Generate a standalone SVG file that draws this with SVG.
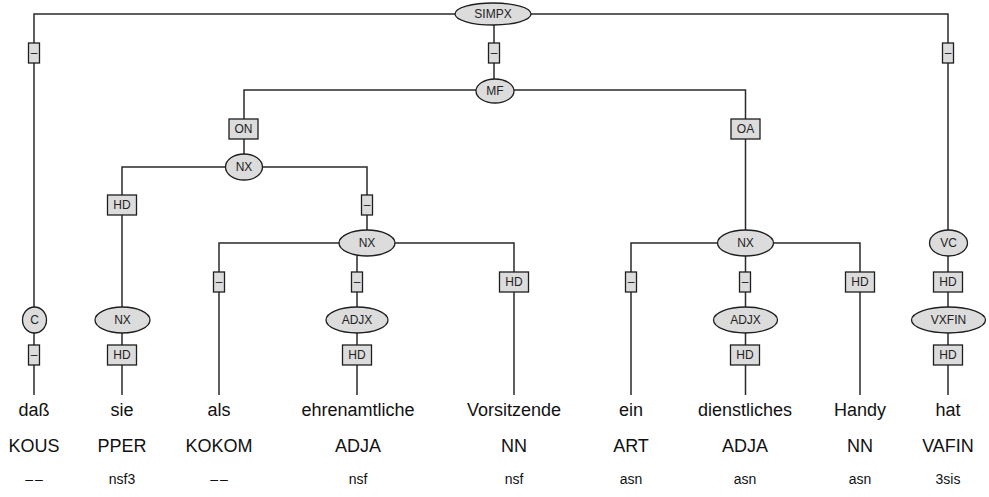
<svg xmlns="http://www.w3.org/2000/svg" width="989" height="497" viewBox="0 0 989 497">
<style>
.ln{stroke:#2a2a2a;stroke-width:1.5;fill:none}
.el{fill:#dcdcdc;stroke:#1e1e1e;stroke-width:1.3}
.bx{fill:#dcdcdc;stroke:#1e1e1e;stroke-width:1.3}
.lb{font-family:"Liberation Sans",Arial,sans-serif;font-size:12px;fill:#222;text-anchor:middle}
.w{font-family:"Liberation Sans",Arial,sans-serif;font-size:18px;fill:#111;text-anchor:middle}
.t{font-family:"Liberation Sans",Arial,sans-serif;font-size:14px;fill:#111;text-anchor:middle}
.dd{letter-spacing:2px}
</style>
<rect width="989" height="497" fill="#fff"/>
<g id="connectors" class="ln">
<path d="M34,395 V14 H948 V395"/>
<path d="M494,14 V91"/>
<path d="M244,167 V90 H745.5 V395"/>
<path d="M122,395 V167 H367 V243"/>
<path d="M219,395 V243 H514 V395"/>
<path d="M357,243 V395"/>
<path d="M631,395 V243 H860 V395"/>
</g>
<g id="SIMPX"><ellipse class="el" cx="493" cy="14" rx="38" ry="11"/><text class="lb" x="493" y="18">SIMPX</text></g>
<g id="e_c_top"><rect class="bx" x="28.5" y="43" width="11" height="20"/><text class="lb" x="34" y="57">–</text></g>
<g id="e_mf_top"><rect class="bx" x="488.5" y="43" width="11" height="20"/><text class="lb" x="494" y="57">–</text></g>
<g id="e_vc_top"><rect class="bx" x="942.5" y="43" width="11" height="20"/><text class="lb" x="948" y="57">–</text></g>
<g id="MF"><ellipse class="el" cx="495" cy="91" rx="19" ry="12"/><text class="lb" x="495" y="95">MF</text></g>
<g id="e_ON"><rect class="bx" x="229" y="119" width="29" height="20"/><text class="lb" x="243.5" y="133">ON</text></g>
<g id="e_OA"><rect class="bx" x="731" y="119" width="29" height="20"/><text class="lb" x="745.5" y="133">OA</text></g>
<g id="NX_on"><ellipse class="el" cx="244" cy="167" rx="18.5" ry="13"/><text class="lb" x="244" y="171">NX</text></g>
<g id="e_HD_sie"><rect class="bx" x="107.5" y="195" width="29" height="20"/><text class="lb" x="122" y="209">HD</text></g>
<g id="e_nx_mid"><rect class="bx" x="361.5" y="195" width="11" height="20"/><text class="lb" x="367" y="209">–</text></g>
<g id="NX_mid"><ellipse class="el" cx="367" cy="243" rx="28" ry="13"/><text class="lb" x="367" y="247">NX</text></g>
<g id="NX_oa"><ellipse class="el" cx="745.5" cy="243" rx="28" ry="13"/><text class="lb" x="745.5" y="247">NX</text></g>
<g id="VC"><ellipse class="el" cx="948.5" cy="243" rx="19" ry="13"/><text class="lb" x="948.5" y="247">VC</text></g>
<g id="e_als"><rect class="bx" x="213.5" y="272" width="11" height="20"/><text class="lb" x="219" y="286">–</text></g>
<g id="e_adjx1"><rect class="bx" x="351.5" y="272" width="11" height="20"/><text class="lb" x="357" y="286">–</text></g>
<g id="e_HD_vors"><rect class="bx" x="499.5" y="272" width="29" height="20"/><text class="lb" x="514" y="286">HD</text></g>
<g id="e_ein"><rect class="bx" x="625.5" y="272" width="11" height="20"/><text class="lb" x="631" y="286">–</text></g>
<g id="e_adjx2"><rect class="bx" x="739.5" y="272" width="11" height="20"/><text class="lb" x="745" y="286">–</text></g>
<g id="e_HD_handy"><rect class="bx" x="845.5" y="272" width="29" height="20"/><text class="lb" x="860" y="286">HD</text></g>
<g id="e_HD_vc"><rect class="bx" x="933.5" y="272" width="29" height="20"/><text class="lb" x="948" y="286">HD</text></g>
<g id="C"><ellipse class="el" cx="34.5" cy="320" rx="12" ry="13"/><text class="lb" x="34.5" y="324">C</text></g>
<g id="NX_sie"><ellipse class="el" cx="122.5" cy="320" rx="27.5" ry="13"/><text class="lb" x="122.5" y="324">NX</text></g>
<g id="ADJX1"><ellipse class="el" cx="357" cy="320" rx="31" ry="13"/><text class="lb" x="357" y="324">ADJX</text></g>
<g id="ADJX2"><ellipse class="el" cx="745.5" cy="320" rx="32" ry="13"/><text class="lb" x="745.5" y="324">ADJX</text></g>
<g id="VXFIN"><ellipse class="el" cx="948.5" cy="320" rx="37" ry="13"/><text class="lb" x="948.5" y="324">VXFIN</text></g>
<g id="e_dass"><rect class="bx" x="28.5" y="345" width="11" height="20"/><text class="lb" x="34" y="359">–</text></g>
<g id="e_HD_sie2"><rect class="bx" x="107.5" y="345" width="29" height="20"/><text class="lb" x="122" y="359">HD</text></g>
<g id="e_HD_ehren"><rect class="bx" x="342.5" y="345" width="29" height="20"/><text class="lb" x="357" y="359">HD</text></g>
<g id="e_HD_dienst"><rect class="bx" x="730.5" y="345" width="29" height="20"/><text class="lb" x="745" y="359">HD</text></g>
<g id="e_HD_hat"><rect class="bx" x="933.5" y="345" width="29" height="20"/><text class="lb" x="948" y="359">HD</text></g>
<g id="leaves">
<g id="w_dass"><text class="w" x="34" y="416">daß</text><text class="w" x="34" y="452">KOUS</text><text class="t dd" x="35" y="484">––</text></g>
<g id="w_sie"><text class="w" x="122" y="416">sie</text><text class="w" x="122" y="452">PPER</text><text class="t" x="122" y="484">nsf3</text></g>
<g id="w_als"><text class="w" x="219" y="416">als</text><text class="w" x="219" y="452">KOKOM</text><text class="t dd" x="220" y="484">––</text></g>
<g id="w_ehren"><text class="w" x="358" y="416">ehrenamtliche</text><text class="w" x="358" y="452">ADJA</text><text class="t" x="358" y="484">nsf</text></g>
<g id="w_vors"><text class="w" x="514" y="416">Vorsitzende</text><text class="w" x="514" y="452">NN</text><text class="t" x="514" y="484">nsf</text></g>
<g id="w_ein"><text class="w" x="631" y="416">ein</text><text class="w" x="631" y="452">ART</text><text class="t" x="631" y="484">asn</text></g>
<g id="w_dienst"><text class="w" x="745" y="416">dienstliches</text><text class="w" x="745" y="452">ADJA</text><text class="t" x="745" y="484">asn</text></g>
<g id="w_handy"><text class="w" x="860" y="416">Handy</text><text class="w" x="860" y="452">NN</text><text class="t" x="860" y="484">asn</text></g>
<g id="w_hat"><text class="w" x="948" y="416">hat</text><text class="w" x="948" y="452">VAFIN</text><text class="t" x="948" y="484">3sis</text></g>
</g>
</svg>
